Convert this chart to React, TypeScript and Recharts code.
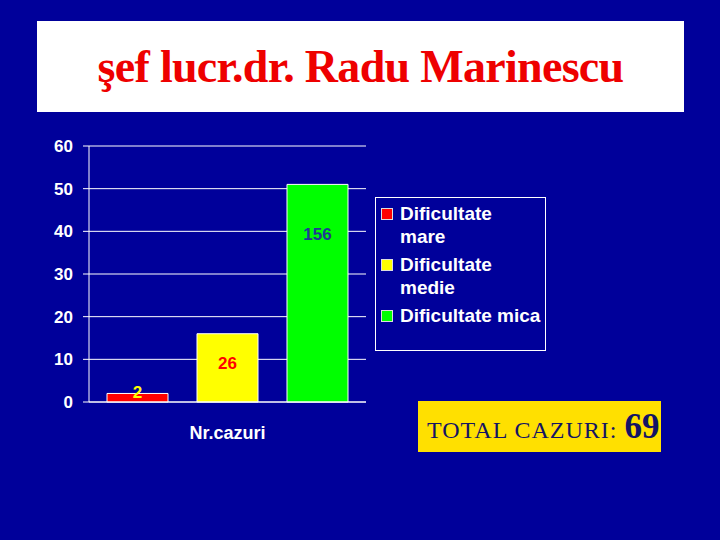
import React from 'react';
import { BarChart, Bar, XAxis, YAxis, CartesianGrid } from 'recharts';

// chart data
const titleText = 'şef lucr.dr. Radu Marinescu';
const categories = ['Nr.cazuri'];
const seriesNames = ['Dificultate mare', 'Dificultate medie', 'Dificultate mica'];
const seriesValues = [2, 16, 51];
const barLabels = ['2', '26', '156'];
const yTicks = [0, 10, 20, 30, 40, 50, 60];
const totalLabel = 'TOTAL CAZURI:';
const totalValue = 69;

// styling
const BG = '#00009a';
const SANS = '"Liberation Sans", Arial, sans-serif';
const SERIF = '"Liberation Serif", "Times New Roman", serif';
const seriesColors = ['#ff0000', '#ffff00', '#00ff00'];
const labelColors = ['#ffff00', '#ff0000', '#1f3a93'];
const labelShift = [-5, -4, -59];

const data = categories.map((name) => {
    const row: Record<string, string | number> = { name };
    seriesNames.forEach((s, i) => {
        row[s] = seriesValues[i];
    });
    return row;
});

const makeLabel = (i: number) => (props: any) => {
    const { x, y, width, height } = props;
    return (
        <text
            x={Number(x) + Number(width) / 2}
            y={Number(y) + Number(height) / 2 + labelShift[i]}
            textAnchor="middle"
            dominantBaseline="central"
            fill={labelColors[i]}
            fontFamily={SANS}
            fontWeight={700}
            fontSize={17}
        >
            {barLabels[i]}
        </text>
    );
};

const Legend = () => (
    <div
        style={{
            position: 'absolute',
            left: 375,
            top: 197,
            width: 171,
            height: 154,
            boxSizing: 'border-box',
            border: '1px solid #ffffff',
            padding: '4px 0 0 5px',
            fontFamily: SANS,
            fontWeight: 700,
            fontSize: 19,
            lineHeight: '23px',
            color: '#ffffff',
        }}
    >
        {seriesNames.map((name, i) => (
            <div key={name} style={{ display: 'flex', alignItems: 'flex-start', marginBottom: 5 }}>
                <div
                    style={{
                        width: 12,
                        height: 12,
                        marginTop: 6,
                        boxSizing: 'border-box',
                        border: '1px solid #dddddd',
                        background: seriesColors[i],
                        flex: 'none',
                    }}
                />
                <div style={{ width: 141.5, marginLeft: 7 }}>{name}</div>
            </div>
        ))}
    </div>
);

export default function App() {
    return (
        <div style={{ position: 'absolute', left: 0, top: 0, width: 720, height: 540, background: BG, overflow: 'hidden' }}>
            <div style={{ position: 'absolute', left: 37, top: 21, width: 647, height: 91, background: '#ffffff' }}>
                <div
                    style={{
                        position: 'absolute',
                        left: 0,
                        right: 0,
                        top: 23,
                        textAlign: 'center',
                        fontFamily: SERIF,
                        fontWeight: 700,
                        fontSize: 46,
                        lineHeight: '46px',
                        letterSpacing: -0.7,
                        color: '#ee0000',
                        whiteSpace: 'nowrap',
                    }}
                >
                    {titleText}
                </div>
            </div>

            <BarChart
                width={720}
                height={540}
                data={data}
                margin={{ top: 146, right: 354, bottom: 98, left: 29 }}
                barSize={61}
                barGap={29}
                style={{ position: 'absolute', left: 0, top: 0 }}
            >
                <CartesianGrid vertical={false} stroke="#ffffff" strokeWidth={1} />
                <XAxis
                    dataKey="name"
                    height={40}
                    axisLine={{ stroke: '#ffffff' }}
                    tickLine={false}
                    tickSize={6}
                    tickMargin={18}
                    tick={{ fill: '#ffffff', fontSize: 18, fontWeight: 700, fontFamily: SANS }}
                />
                <YAxis
                    domain={[0, 60]}
                    ticks={yTicks}
                    interval={0}
                    width={60}
                    axisLine={{ stroke: '#ffffff' }}
                    tickLine={{ stroke: '#ffffff' }}
                    tickSize={6}
                    tickMargin={10}
                    tick={{ fill: '#ffffff', fontSize: 17, fontWeight: 700, fontFamily: SANS }}
                />
                {seriesNames.map((s, i) => (
                    <Bar
                        key={s}
                        dataKey={s}
                        fill={seriesColors[i]}
                        stroke="#ffffff"
                        strokeWidth={1}
                        isAnimationActive={false}
                        label={makeLabel(i)}
                    />
                ))}
            </BarChart>

            <Legend />

            <div style={{ position: 'absolute', left: 418, top: 401, width: 243, height: 51, background: '#ffe000' }}>
                <svg width={243} height={51} style={{ display: 'block' }}>
                    <text x={9} y={37} fill="#141464" fontFamily={SERIF}>
                        <tspan fontSize={24} letterSpacing={1}>{totalLabel} </tspan>
                        <tspan fontSize={35} fontWeight={700}>{totalValue}</tspan>
                    </text>
                </svg>
            </div>
        </div>
    );
}
